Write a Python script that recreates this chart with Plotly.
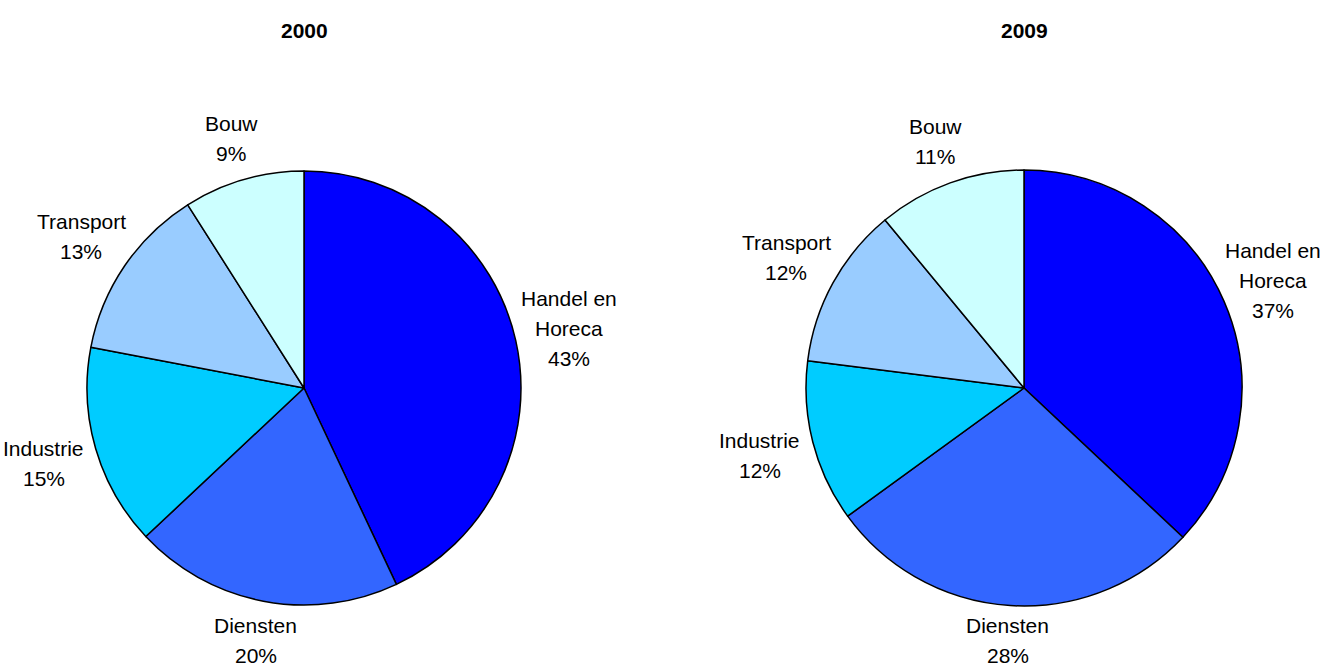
import math
import plotly.graph_objects as go

categories = ["Handel en Horeca", "Diensten", "Industrie", "Transport", "Bouw"]
label_lines = [["Handel en", "Horeca"], ["Diensten"], ["Industrie"], ["Transport"], ["Bouw"]]
values_2000 = [43, 20, 15, 13, 9]
values_2009 = [37, 28, 12, 12, 11]
years = ["2000", "2009"]
colors = ["#0000FF", "#3366FF", "#00CCFF", "#99CCFF", "#CCFFFF"]

W, H = 1335, 670
font_family = "Liberation Sans, Arial, sans-serif"
FS = 21
LINE = 30

# pie geometry (pixels): centre x, centre y, radius
pies = [(304, 388, 217), (1024, 388, 218)]

fig = go.Figure()

for vals, (cx, cy, r), yr in zip([values_2000, values_2009], pies, years):
    dom = dict(x=[(cx - r) / W, (cx + r) / W], y=[(H - cy - r) / H, (H - cy + r) / H])
    fig.add_trace(go.Pie(
        labels=categories,
        values=vals,
        textinfo="none",
        sort=False,
        direction="clockwise",
        rotation=0,
        marker=dict(colors=colors, line=dict(color="black", width=1.5)),
        domain=dom,
        showlegend=False,
        hoverinfo="label+percent",
    ))

    # outside labels placed along each slice's mid-angle
    total = sum(vals)
    cum = 0.0
    for v, lines in zip(vals, label_lines):
        mid = (cum + v / 2) / total * 2 * math.pi
        cum += v
        sx, sy = math.sin(mid), -math.cos(mid)
        d = r * (1.178 + 0.075 * abs(sx))
        px, py = cx + d * sx, cy + d * sy
        all_lines = lines + [f"{round(v / total * 100)}%"]
        n = len(all_lines)
        # keep the whole label block inside the figure
        half_block = (n - 1) / 2 * LINE + FS * 0.68
        py = min(py, H - half_block)
        for i, t in enumerate(all_lines):
            fig.add_annotation(
                text=t, x=px / W, y=(H - py) / H, xref="paper", yref="paper",
                yshift=((n - 1) / 2 - i) * LINE, borderpad=0,
                showarrow=False, font=dict(family=font_family, size=FS, color="black"),
                xanchor="center", yanchor="middle",
            )

    fig.add_annotation(
        text="<b>" + yr + "</b>", x=cx / W, y=1 - 30 / H, xref="paper", yref="paper",
        showarrow=False, font=dict(family=font_family, size=FS, color="black"),
        xanchor="center", yanchor="middle",
    )

fig.update_layout(
    width=W, height=H,
    margin=dict(l=0, r=0, t=0, b=0),
    paper_bgcolor="white", plot_bgcolor="white",
    font=dict(family=font_family, size=FS, color="black"),
)

fig.write_html("out.html")
